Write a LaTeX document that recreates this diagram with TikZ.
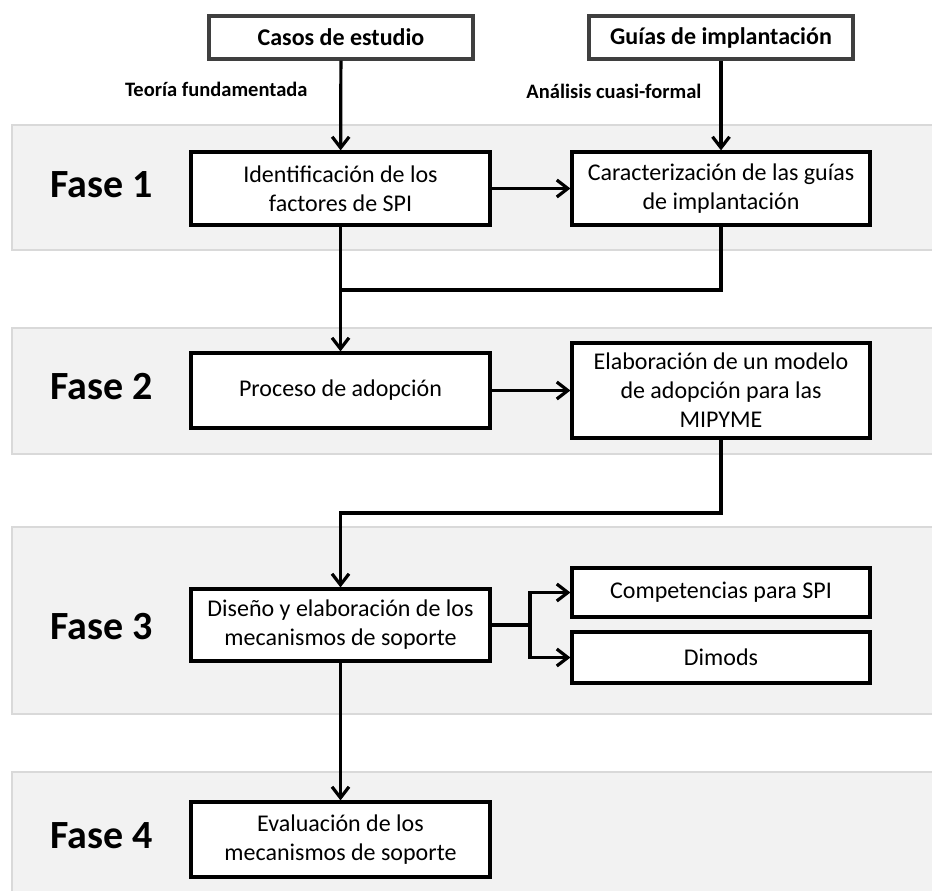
\documentclass[tikz,border=0pt]{standalone}
\usepackage{fontspec}
\setmainfont{Carlito}
\usetikzlibrary{arrows.meta}
\definecolor{bandfill}{HTML}{F2F2F2}
\definecolor{bandline}{HTML}{D9D9D9}
\definecolor{srcline}{HTML}{3F3F3F}
\begin{document}
\begin{tikzpicture}[x=1pt,y=-1pt,
  band/.style={fill=bandfill,draw=bandline,line width=1.2pt},
  phase/.style={anchor=base west,font=\fontsize{40}{48}\selectfont\bfseries},
  srcbox/.style={draw=srcline,fill=white,line width=3.2pt,minimum width=264pt,minimum height=43pt,
    inner sep=0pt,font=\fontsize{24}{28}\selectfont\bfseries},
  stepbox/.style={draw=black,fill=white,line width=3.2pt,inner sep=0pt,align=center,
    font=\fontsize{24}{29}\selectfont},
  method/.style={anchor=east,font=\fontsize{20.5}{24}\selectfont\bfseries},
  flow/.style={line width=3.2pt,-{Straight Barb[length=11pt,width=17pt,line width=3.2pt]}},
  link/.style={line width=3.2pt}]
\clip (0,0) rectangle (932,891);
\fill[white] (0,0) rectangle (932,891);

% phase bands
\draw[band] (12,125) rectangle (945,250);
\draw[band] (12,328) rectangle (945,454);
\draw[band] (12,527) rectangle (945,714);
\draw[band] (12,772) rectangle (945,905);

\node[phase] (f1) at (47,197) {Fase 1};
\node[phase] (f2) at (47,399) {Fase 2};
\node[phase] (f3) at (47,639) {Fase 3};
\node[phase] (f4) at (47,848) {Fase 4};

% sources
\node[srcbox] (casos) at (341,37.5) {Casos de estudio};
\node[srcbox] (guias) at (721,37.5) {Guías de implantación};
\node[method] (tf) at (311,89) {Teoría fundamentada};
\node[method] (acf) at (705,91) {Análisis cuasi-formal};

% steps
\node[stepbox,minimum width=299pt,minimum height=73pt] (ident) at (340.5,188.5)
  {Identificación de los\\factores de SPI};
\node[stepbox,minimum width=298pt,minimum height=73pt] (caract) at (721,188.5)
  {Caracterización de las guías\\de implantación};
\node[stepbox,minimum width=299pt,minimum height=75pt] (proceso) at (340.5,390.5)
  {Proceso de adopción};
\node[stepbox,minimum width=298pt,minimum height=95pt] (elab) at (721,390.5)
  {Elaboración de un modelo\\de adopción para las\\MIPYME};
\node[stepbox,minimum width=299pt,minimum height=72pt] (diseno) at (340.5,625)
  {Diseño y elaboración de los\\mecanismos de soporte};
\node[stepbox,minimum width=298pt,minimum height=49pt] (comp) at (721,592.5)
  {Competencias para SPI};
\node[stepbox,minimum width=298pt,minimum height=51pt] (dimods) at (721,657.5)
  {Dimods};
\node[stepbox,minimum width=299pt,minimum height=75pt] (eval) at (340.5,839.5)
  {Evaluación de los\\mecanismos de soporte};

% junction points
\coordinate (j1) at (340.5,290);
\coordinate (j2) at (340.5,513);
\coordinate (j3) at (530,625);

% connectors
\draw[flow] (casos) -- (ident);
\draw[flow] (guias) -- (caract);
\draw[flow] (ident) -- (caract);
\draw[flow] (ident) -- (proceso);
\draw[link] (caract.south) |- (j1);
\draw[flow] (proceso) -- (elab);
\draw[flow] (elab.south) |- (j2) -- (diseno.north);
\draw[link] (diseno.east) -- (j3);
\draw[flow] (j3) |- (comp.west);
\draw[flow] (j3) |- (dimods.west);
\draw[flow] (diseno) -- (eval);
\end{tikzpicture}
\end{document}
